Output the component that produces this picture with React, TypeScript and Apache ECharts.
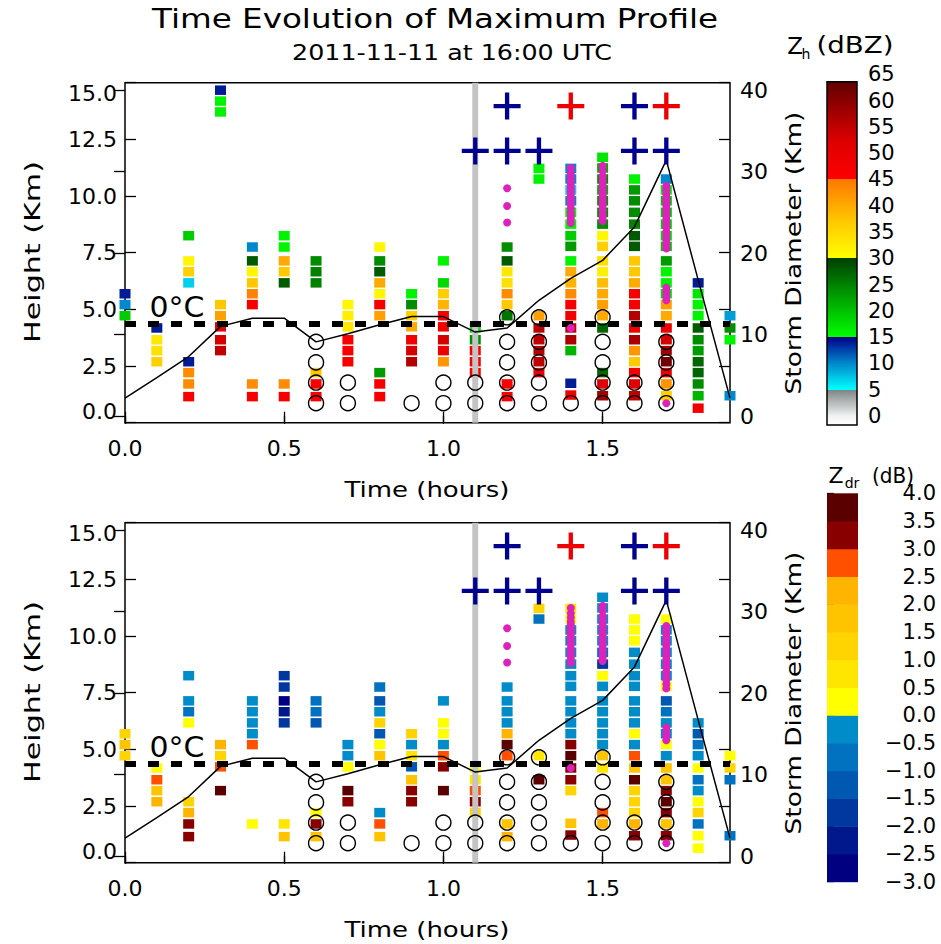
import React, { useEffect, useRef } from "react";
import * as echarts from "echarts";

// ---------------- data ----------------
const TIMES = [0.0, 0.1, 0.2, 0.3, 0.4, 0.5, 0.6, 0.7, 0.8, 0.9, 1.0, 1.1, 1.2, 1.3, 1.4, 1.5, 1.6, 1.7, 1.8, 1.9];

const HEIGHTS: number[][] = [
  [5.69, 5.21, 4.72],
  [4.18, 3.66, 3.18, 2.69],
  [8.25, 7.14, 6.66, 6.17, 2.69, 2.21, 1.71, 1.15],
  [14.67, 14.19, 13.71, 5.21, 4.72, 4.23, 3.66, 3.18],
  [7.75, 7.14, 6.66, 6.17, 5.69, 5.21, 1.71, 1.15],
  [8.25, 7.75, 7.14, 6.66, 6.17, 1.71, 1.15],
  [7.14, 6.66, 6.17, 2.21, 1.71, 1.15],
  [5.21, 4.72, 4.23, 3.66, 3.18, 2.69],
  [7.75, 7.14, 6.66, 6.17, 5.69, 5.21, 4.72, 2.21, 1.71, 1.15],
  [5.69, 5.21, 4.72, 4.23, 3.66, 3.18, 2.69],
  [7.14, 6.17, 5.69, 5.21, 4.72, 4.23, 3.66, 3.18, 2.69],
  [4.18, 3.66, 3.18, 2.69, 2.21],
  [7.75, 7.14, 6.66, 6.17, 5.69, 5.21, 4.72, 1.71, 1.15],
  [11.22, 10.75, 4.72, 4.18, 3.66, 3.18, 2.69, 2.21],
  [11.22, 10.75, 10.27, 9.79, 9.28, 8.76, 8.25, 7.78, 7.14, 6.66, 6.17, 5.69, 5.21, 4.72, 4.18, 3.66, 3.18, 1.74, 1.22],
  [11.71, 11.24, 10.75, 10.27, 9.79, 9.28, 8.76, 8.25, 7.78, 7.14, 6.66, 6.17, 5.69, 5.21, 4.72, 4.18, 2.21, 1.71, 1.19],
  [10.75, 10.27, 9.79, 9.28, 8.76, 8.25, 7.78, 7.14, 6.66, 6.17, 5.69, 5.21, 4.72, 4.18, 3.66, 3.18, 2.69, 2.21, 1.71, 1.19],
  [10.75, 10.27, 9.79, 9.28, 8.76, 8.25, 7.78, 7.14, 6.66, 6.17, 5.69, 5.21, 4.72, 4.18, 3.66, 3.18, 2.69, 2.21, 1.71, 1.19],
  [6.17, 5.69, 5.21, 4.72, 4.18, 3.66, 3.18, 2.69, 2.21, 1.71, 1.19, 0.64],
  [4.72, 4.18, 3.66, 1.19],
];

const ZH_DBZ: number[][] = [
  [14, 10, 19],
  [14, 33, 34, 36],
  [19, 31, 36, 7, 14, 43, 43, 47],
  [14, 16, 16, 37, 41, 50, 53, 55],
  [10, 28, 31, 37, 44, 47, 43, 47],
  [16, 16, 40, 37, 28, 43, 47],
  [24, 25, 25, 37, 47, 47],
  [31, 32, 33, 47, 47, 47],
  [31, 24, 28, 40, 31, 47, 41, 23, 47, 47],
  [16, 24, 36, 40, 48, 53, 56],
  [16, 18, 36, 39, 47, 48, 53, 49, 42],
  [17, 24, 47, 47, 47],
  [24, 28, 33, 34, 43, 37, 26, 47, 47],
  [16, 16, 41, 55, 55, 56, 55, 50],
  [10, 10, 7, 10, 16, 16, 19, 23, 16, 40, 39, 43, 47, 48, 54, 57, 21, 14, 48],
  [17, 22, 24, 22, 24, 24, 24, 31, 36, 34, 32, 38, 40, 41, 40, 27, 27, 52, 58],
  [16, 23, 24, 24, 25, 28, 28, 37, 37, 40, 47, 47, 56, 48, 57, 42, 37, 48, 52, 55],
  [10, 17, 20, 20, 19, 18, 20, 23, 16, 16, 18, 41, 40, 49, 53, 58, 62, 49, 42, 36],
  [14, 17, 16, 16, 28, 24, 23, 27, 27, 24, 21, 48],
  [9, 24, 16, 10],
];

const ZDR_DB: (number | null)[][] = [
  [1.25, 1.75, 1.25],
  [0.25, 2.75, 1.75, 2.25],
  [-0.25, -0.25, -0.75, 0.25, 1.25, 2.25, 3.25, 3.25],
  [null, null, null, 2.25, 1.25, 2.75, null, 3.75],
  [null, -0.25, -0.25, -0.25, -0.25, 2.75, 0.25, null],
  [-1.75, -1.75, -2.75, -2.25, -1.75, 0.75, 1.75],
  [-0.75, -0.75, -1.25, 0.25, 3.25, 1.75],
  [-0.25, -0.25, 0.25, null, 3.75, 3.25],
  [-0.75, -1.25, -0.25, 1.25, -1.25, 0.25, 1.75, -0.25, 2.75, 1.75],
  [1.25, -0.25, 0.75, -1.25, 1.75, 3.25, 3.25],
  [-0.25, 0.25, 0.25, -0.25, 2.75, 3.25, null, 3.75, null],
  [0.25, 0.75, 2.75, 3.25, 1.25],
  [-0.25, -0.25, -0.25, -0.25, 2.25, 3.75, 2.75, 1.75, 2.25],
  [1.25, -0.75, 0.75, null, 3.75, null, null, null],
  [0.75, 0.25, -0.25, -0.25, -0.25, -0.25, -0.25, -0.25, -0.25, -0.25, -0.25, -0.25, 3.25, 3.75, 3.25, 3.25, 1.25, 1.75, 3.25],
  [-0.25, -0.25, -0.25, -0.25, -0.25, -0.75, -1.75, 0.25, -0.25, -0.25, -0.25, -0.25, -0.25, -0.25, 1.75, 0.75, 2.75, 2.25, null],
  [0.25, 0.25, 0.25, -0.25, -0.25, -0.25, -0.25, -0.25, -0.25, -0.25, 0.25, -0.25, 2.75, 1.75, 3.75, 1.25, 1.25, 1.25, 2.25, 3.25],
  [0.25, -0.25, -0.25, -0.25, -0.25, -0.25, 0.25, -1.25, -0.75, -0.25, -0.25, 0.25, -0.25, 1.75, 1.75, 3.25, 3.75, 3.25, 1.75, 3.25],
  [-0.25, -1.25, -0.75, -0.25, 0.25, -0.75, -0.25, 0.25, 1.25, -0.75, 0.25, 0.25],
  [0.25, 1.25, -0.75, -0.75],
];

const STORM_DIAMETER_KM = [2.2, 4.7, 7.3, 11.0, 12.0, 12.0, 9.1, 10.1, 11.2, 12.2, 12.2, 10.3, 10.8, 14.2, 16.9, 19.1, 23.2, 31.4, 16.7, 2.2];

const FREEZING_LEVEL_KM = 4.35;
const MARKED_TIME = 1.1;

const CIRCLE_POINTS: number[][] = [
  [0.6, 3.57], [0.6, 2.66], [0.6, 1.77], [0.6, 0.86],
  [0.7, 1.77], [0.7, 0.86],
  [0.9, 0.86],
  [1.0, 1.77], [1.0, 0.86],
  [1.1, 1.77], [1.1, 0.86],
  [1.2, 4.65], [1.2, 3.57], [1.2, 2.66], [1.2, 1.77], [1.2, 0.86],
  [1.3, 4.65], [1.3, 3.57], [1.3, 2.66], [1.3, 1.77], [1.3, 0.86],
  [1.4, 0.86],
  [1.5, 4.65], [1.5, 3.57], [1.5, 2.66], [1.5, 1.77], [1.5, 0.86],
  [1.6, 1.77], [1.6, 0.86],
  [1.7, 3.57], [1.7, 2.66], [1.7, 1.77], [1.7, 0.86],
];

const MAGENTA_T12 = [10.34, 9.56, 8.83];
const MAGENTA_T14 = [11.24, 11.0, 10.82, 10.63, 10.49, 10.35, 10.21, 10.07, 9.93, 9.79, 9.65, 9.46, 9.28, 9.14, 9.0, 8.81, 4.18];
const MAGENTA_T15 = [11.33, 11.1, 10.86, 10.68, 10.49, 10.3, 10.16, 10.02, 9.84, 9.7, 9.56, 9.37, 9.18, 9.04, 8.9];
const MAGENTA_T17 = [10.44, 10.26, 10.07, 9.88, 9.74, 9.56, 9.37, 9.18, 8.99, 8.81, 8.62, 8.43, 8.25, 8.06, 7.87, 7.69, 5.96, 5.77, 5.58, 5.4, 0.86];

const PLUS_BLUE: number[][] = [[1.2, 13.97], [1.6, 13.97], [1.1, 11.99], [1.2, 11.99], [1.3, 11.99], [1.6, 11.99], [1.7, 11.99]];
const PLUS_RED: number[][] = [[1.4, 13.97], [1.7, 13.97]];

const TIME_TICKS = [0, 0.5, 1.0, 1.5];
const DIAMETER_TICKS = [0, 10, 20, 30, 40];
const ZH_TICKS = [0, 5, 10, 15, 20, 25, 30, 35, 40, 45, 50, 55, 60, 65];
const ZDR_BOUNDS = [-3, -2.5, -2, -1.5, -1, -0.5, 0, 0.5, 1, 1.5, 2, 2.5, 3, 3.5, 4];
const ZDR_COLORS = ["#000080", "#00188c", "#0038a0", "#0058b0", "#0072c0", "#008cc8", "#ffff00", "#ffe600", "#ffd400", "#ffc400", "#ffb400", "#ff5000", "#880000", "#5a0000"];
const ZH_BANDS: [number, string][][] = [
  [[0, "#f2f2f2"], [5, "#7c8484"]],
  [[5, "#00ffff"], [10, "#0088cc"], [15, "#000088"]],
  [[15, "#00ff00"], [22, "#00a800"], [30, "#004000"]],
  [[30, "#ffff00"], [37, "#ffc800"], [45, "#ff7800"]],
  [[45, "#ff0000"], [52, "#e00000"], [58, "#a00000"], [65, "#500000"]],
];
const ZH_BAR_RANGE = [-1.7, 63.6];

// ---------------- helpers ----------------
const FONT = '"DejaVu Sans", "Liberation Sans", sans-serif';

function hexRgb(h: string) {
  const n = parseInt(h.slice(1), 16);
  return [(n >> 16) & 255, (n >> 8) & 255, n & 255];
}
function mix(a: string, b: string, t: number) {
  const A = hexRgb(a), B = hexRgb(b);
  return "rgb(" + A.map((x, i) => Math.round(x + (B[i] - x) * t)).join(",") + ")";
}
function zhColor(v: number): string {
  for (let bi = ZH_BANDS.length - 1; bi >= 0; bi--) {
    const band = ZH_BANDS[bi];
    if (v >= band[0][0] || bi === 0) {
      const c = Math.min(Math.max(v, band[0][0]), band[band.length - 1][0]);
      for (let k = 0; k < band.length - 1; k++) {
        if (c <= band[k + 1][0]) {
          return mix(band[k][1], band[k + 1][1], (c - band[k][0]) / (band[k + 1][0] - band[k][0]));
        }
      }
      return band[band.length - 1][1];
    }
  }
  return "#fff";
}
function zdrColor(v: number): string {
  for (let i = 0; i < ZDR_COLORS.length; i++) {
    if (v < ZDR_BOUNDS[i + 1]) return ZDR_COLORS[i];
  }
  return ZDR_COLORS[ZDR_COLORS.length - 1];
}
function zhGradient() {
  const [lo, hi] = ZH_BAR_RANGE;
  const off = (v: number) => Math.min(1, Math.max(0, (v - lo) / (hi - lo)));
  const stops: { offset: number; color: string }[] = [{ offset: 0, color: "#ffffff" }];
  ZH_BANDS.forEach((band) => {
    band.forEach(([v, c]) => {
      if (v > hi) stops.push({ offset: 1, color: zhColor(hi) });
      else stops.push({ offset: off(v), color: c });
    });
  });
  return new echarts.graphic.LinearGradient(0, 1, 0, 0, stops);
}

function measure(text: string, size: number) {
  const ctx = document.createElement("canvas").getContext("2d");
  if (!ctx) return text.length * size * 0.6;
  ctx.font = `${size}px "DejaVu Sans"`;
  return ctx.measureText(text).width;
}
function txt(text: string, x: number, y: number, size: number, o: { width?: number; scale?: number; rotate?: boolean } = {}) {
  const sx = o.width ? o.width / measure(text, size) : o.scale ?? 1;
  return {
    type: "text",
    x, y,
    rotation: o.rotate ? Math.PI / 2 : 0,
    scaleX: sx,
    scaleY: 1,
    silent: true,
    z: 100,
    style: {
      text,
      font: `${size}px ${FONT}`,
      fill: "#000",
      align: "center",
      verticalAlign: "middle",
      textAlign: "center",
      textVerticalAlign: "middle",
    },
  };
}

const PLUS_PATH = "path://M42 0H58V42H100V58H58V100H42V58H0V42H42Z";
const labelStyle = { fontFamily: FONT, fontSize: 22, color: "#000" };
const tickStyle = { color: "#000", width: 1.3 };

function buildOption() {
  const magenta: number[][] = [
    ...MAGENTA_T12.map((h) => [1.2, h]),
    ...MAGENTA_T14.map((h) => [1.4, h]),
    ...MAGENTA_T15.map((h) => [1.5, h]),
    ...MAGENTA_T17.map((h) => [1.7, h]),
  ];
  const lineData = TIMES.map((t, i) => [t, STORM_DIAMETER_KM[i]]);
  const panelPoints = (vals: (number | null)[][]) => {
    const out: number[][] = [];
    TIMES.forEach((t, i) => {
      HEIGHTS[i].forEach((h, j) => {
        const v = vals[i][j];
        if (v !== null && v !== undefined) out.push([t, h, v]);
      });
    });
    return out;
  };
  const panels = [
    { top: 82.7, points: panelPoints(ZH_DBZ), color: zhColor },
    { top: 522.7, points: panelPoints(ZDR_DB), color: zdrColor },
  ];

  const grid: any[] = [];
  const xAxis: any[] = [];
  const yAxis: any[] = [];
  const series: any[] = [];

  panels.forEach((p, pi) => {
    grid.push({ left: 125, top: p.top, width: 605, height: 340, show: true, borderColor: "#000", borderWidth: 1.5, backgroundColor: "transparent", outerBoundsMode: "none" });
    const xi = xAxis.length;
    xAxis.push({
      type: "value", gridIndex: pi, position: "bottom", min: 0, max: 1.9,
      axisLine: { show: false },
      axisTick: { show: true, inside: true, length: 11, customValues: TIME_TICKS, lineStyle: tickStyle },
      axisLabel: { show: true, customValues: TIME_TICKS, formatter: (v: number) => v.toFixed(1), margin: 15, ...labelStyle },
      splitLine: { show: false },
    });
    xAxis.push({
      type: "value", gridIndex: pi, position: "top", min: 0, max: 1.9,
      axisLine: { show: false },
      axisTick: { show: true, inside: true, length: 8, customValues: TIME_TICKS, lineStyle: tickStyle },
      axisLabel: { show: false },
      splitLine: { show: false },
    });
    const yh = yAxis.length;
    yAxis.push({
      type: "value", gridIndex: pi, position: "left", min: 0, max: 15, interval: 2.5,
      axisLine: { show: false },
      axisTick: { show: true, inside: true, length: 11, lineStyle: tickStyle },
      axisLabel: {
        margin: 8, ...labelStyle,
        formatter: (v: number) => (v === 0 ? "{lo|0.0}" : v === 15 ? "{hi|15.0}" : v.toFixed(1)),
        rich: {
          lo: { ...labelStyle, padding: [0, 0, 22, 0] },
          hi: { ...labelStyle, padding: [21, 0, 0, 0] },
        },
      },
      splitLine: { show: false },
    });
    const ys = yAxis.length;
    yAxis.push({
      type: "value", gridIndex: pi, position: "right", min: -0.82, max: 40.9,
      axisLine: { show: false },
      axisTick: { show: true, inside: true, length: 11, customValues: DIAMETER_TICKS, lineStyle: tickStyle },
      axisLabel: { customValues: DIAMETER_TICKS, margin: 10, formatter: (v: number) => String(Math.round(v)), ...labelStyle },
      splitLine: { show: false },
    });
    yAxis.push({
      type: "value", gridIndex: pi, position: "right", min: 0, max: 15, interval: 2.5,
      axisLine: { show: false },
      axisTick: { show: true, inside: true, length: 11, lineStyle: tickStyle },
      axisLabel: { show: false },
      splitLine: { show: false },
    });

    const common = { xAxisIndex: xi, yAxisIndex: yh, silent: true, animation: false, emphasis: { disabled: true } };
    series.push({
      ...common, type: "scatter", data: p.points, symbol: "rect", symbolSize: [11, 9.5], z: 2,
      itemStyle: { color: (prm: any) => p.color(prm.value[2]), opacity: 1 },
    });
    series.push({
      ...common, type: "line", data: [[MARKED_TIME, 0], [MARKED_TIME, 15]], symbol: "none", z: 3,
      lineStyle: { color: "#c4c4c4", width: 6 },
    });
    series.push({
      ...common, type: "scatter", data: CIRCLE_POINTS, symbol: "circle", symbolSize: 15, z: 4,
      itemStyle: { color: "rgba(255,255,255,0)", borderColor: "#000", borderWidth: 1.4, opacity: 1 },
    });
    series.push({
      ...common, type: "line", data: [[0, FREEZING_LEVEL_KM], [1.9, FREEZING_LEVEL_KM]], symbol: "none", z: 5,
      lineStyle: { color: "#000", width: 6, type: [11, 12], cap: "butt" },
    });
    series.push({
      ...common, yAxisIndex: ys, type: "line", data: lineData, symbol: "none", z: 6,
      lineStyle: { color: "#000", width: 1.5 },
    });
    series.push({
      ...common, type: "scatter", data: magenta, symbol: "circle", symbolSize: 8, z: 7,
      itemStyle: { color: "#dd22bb", opacity: 1 },
    });
    series.push({
      ...common, type: "scatter", data: PLUS_BLUE, symbol: PLUS_PATH, symbolSize: 27, z: 8,
      itemStyle: { color: "#000090", opacity: 1 },
    });
    series.push({
      ...common, type: "scatter", data: PLUS_RED, symbol: PLUS_PATH, symbolSize: 27, z: 8,
      itemStyle: { color: "#ee0000", opacity: 1 },
    });
  });

  // Colorbars
  grid.push({ left: 827, top: 74.3, width: 30, height: 350.7, outerBoundsMode: "none" });
  grid.push({ left: 827, top: 493.3, width: 31, height: 388.4, outerBoundsMode: "none" });
  const zhX = xAxis.length;
  xAxis.push({ type: "value", gridIndex: 2, min: 0, max: 1, show: false });
  const zdrX = xAxis.length;
  xAxis.push({ type: "value", gridIndex: 3, min: 0, max: 1, show: false });
  const zhY = yAxis.length;
  yAxis.push({
    type: "value", gridIndex: 2, position: "right", min: ZH_BAR_RANGE[0], max: 65,
    axisLine: { show: false }, axisTick: { show: false }, splitLine: { show: false },
    axisLabel: { customValues: ZH_TICKS, margin: 11, formatter: (v: number) => String(Math.round(v)), ...labelStyle, fontSize: 21 },
  });
  const zdrY = yAxis.length;
  yAxis.push({
    type: "value", gridIndex: 3, position: "right", min: -3, max: 4, interval: 0.5,
    axisLine: { show: false }, splitLine: { show: false },
    axisTick: { show: true, inside: false, length: 7, lineStyle: tickStyle },
    axisLabel: {
      margin: 78, align: "right", ...labelStyle, fontSize: 21,
      formatter: (v: number) => (v < 0 ? "\u2212" : "") + Math.abs(v).toFixed(1),
    },
  });
  series.push({
    type: "custom", xAxisIndex: zhX, yAxisIndex: zhY, silent: true, animation: false,
    data: [[ZH_BAR_RANGE[0], ZH_BAR_RANGE[1]]],
    renderItem: (_params: any, api: any) => {
      const a = api.coord([0, api.value(0)]);
      const b = api.coord([1, api.value(1)]);
      return {
        type: "rect",
        shape: { x: a[0], y: b[1], width: b[0] - a[0], height: a[1] - b[1] },
        style: { fill: zhGradient(), stroke: "#000", lineWidth: 1.5 },
      };
    },
  });
  series.push({
    type: "custom", xAxisIndex: zdrX, yAxisIndex: zdrY, silent: true, animation: false,
    data: ZDR_BOUNDS.slice(0, -1).map((lo, i) => [lo, ZDR_BOUNDS[i + 1]]),
    renderItem: (params: any, api: any) => {
      const a = api.coord([0, api.value(0)]);
      const b = api.coord([1, api.value(1)]);
      return {
        type: "rect",
        shape: { x: a[0], y: b[1], width: b[0] - a[0], height: a[1] - b[1] + 0.5 },
        style: { fill: ZDR_COLORS[params.dataIndex] },
      };
    },
  });

  const graphic: any[] = [
    txt("Time Evolution of Maximum Profile", 435, 19, 27, { width: 566 }),
    txt("2011-11-11 at 16:00 UTC", 452, 52, 21, { width: 320 }),
    txt("Z", 795, 46, 23),
    txt("h", 806, 54, 14),
    txt("(dBZ)", 855, 45, 23, { width: 77 }),
    txt("Z", 836, 475, 22),
    txt("dr", 852, 483, 14),
    txt("(dB)", 893, 475, 22, { width: 42 }),
  ];
  [0, 440].forEach((dy) => {
    graphic.push(txt("Height (Km)", 32, 252 + dy, 22, { width: 182, rotate: true }));
    graphic.push(txt("Time (hours)", 427, 490 + dy, 22, { width: 165 }));
    graphic.push(txt("Storm Diameter (Km)", 793, 253 + dy, 22, { width: 283, rotate: true }));
    graphic.push(txt("0\u00B0C", 177, 307 + dy, 28, { width: 55 }));
  });

  return {
    animation: false,
    backgroundColor: "#ffffff",
    grid, xAxis, yAxis, series, graphic,
  };
}

export default function App() {
  const ref = useRef<HTMLDivElement>(null);
  useEffect(() => {
    if (!ref.current) return;
    const chart = echarts.init(ref.current, undefined, { renderer: "svg" });
    chart.setOption(buildOption() as any);
    return () => chart.dispose();
  }, []);
  return <div ref={ref} style={{ position: "fixed", left: 0, top: 0, width: 941, height: 944, background: "#fff" }} />;
}
